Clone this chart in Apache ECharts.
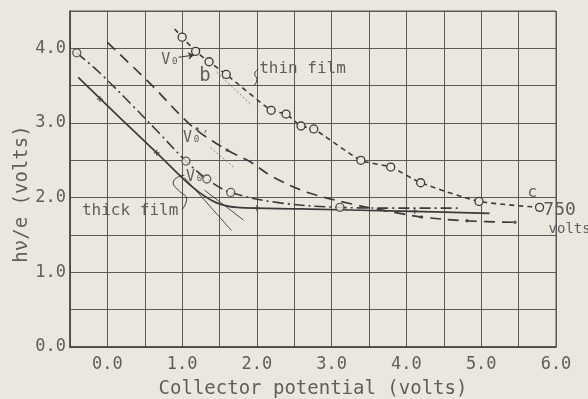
<!DOCTYPE html>
<html>
<head>
<meta charset="utf-8">
<script src="https://cdn.jsdelivr.net/npm/echarts@6/dist/echarts.min.js"></script>
<style>
html,body{margin:0;padding:0;background:#ece7de;}
#c{width:588px;height:399px;}
</style>
</head>
<body>
<div id="c"></div>
<script>
// ---- data ----
const xTicks = [0, 1, 2, 3, 4, 5, 6];
const yTicks = [0, 1, 2, 3, 4];

// thin film (circles, short dashes)
const thinX = [0.90, 1.00, 1.18, 1.36, 1.59, 2.19, 2.39, 2.59, 2.76, 3.39, 3.79, 4.19, 4.97, 5.78];
const thinY = [4.26, 4.15, 3.96, 3.82, 3.65, 3.17, 3.12, 2.96, 2.92, 2.50, 2.41, 2.20, 1.95, 1.87];
const thinHasMark = [0, 1, 1, 1, 1, 1, 1, 1, 1, 1, 1, 1, 1, 1];

// long-dash curve
const longX = [0.00, 0.57, 1.14, 1.60, 1.91, 2.21, 2.68, 3.34, 3.91, 4.20, 4.81, 5.45];
const longY = [4.08, 3.53, 2.95, 2.64, 2.48, 2.28, 2.07, 1.90, 1.79, 1.74, 1.69, 1.67];
const longDotX = [1.20, 1.60, 4.20, 4.81, 5.45];
const longDotY = [2.92, 2.64, 1.74, 1.69, 1.67];

// dash-dot curve (circles)
const ddX = [-0.41, -0.10, 0.33, 0.66, 1.05, 1.33, 1.65, 2.31, 3.11, 3.91, 4.71];
const ddY = [3.94, 3.67, 3.24, 2.90, 2.49, 2.25, 2.07, 1.93, 1.87, 1.86, 1.86];
const ddCircX = [-0.41, 1.05, 1.33, 1.65, 3.11];
const ddCircY = [3.94, 2.49, 2.25, 2.07, 1.87];

// solid curve (thick film)
const solX = [-0.39, 0.20, 0.66, 1.14, 1.44, 1.73, 2.57, 3.91, 5.11];
const solY = [3.61, 3.04, 2.60, 2.14, 1.94, 1.87, 1.85, 1.82, 1.79];
const solTickX = [-0.1, 0.66, 2.0, 4.11];
const solTickY = [3.32, 2.60, 1.86, 1.82];

// tangent construction lines
const tan1X = [1.03, 1.66], tan1Y = [2.27, 1.56];
const tan2X = [1.30, 1.82], tan2Y = [2.10, 1.70];
const tanBX = [1.38, 1.70], tanBY = [2.67, 2.40];
const tanThinX = [1.46, 1.93], tanThinY = [3.68, 3.24];

function zip(xs, ys) { return xs.map((x, i) => [x, ys[i]]); }

const bg = '#ece7de';
const ink = '#3b3b3b';
const txt = '#5e5e5e';
const font = 'DejaVu Sans Mono';

const chart = echarts.init(document.getElementById('c'), null, {renderer: 'canvas'});

const axisCommon = {
  type: 'value',
  interval: 0.5,
  axisTick: {show: false},
  axisLine: {show: true, onZero: false, lineStyle: {color: '#444', width: 1.5}},
  splitLine: {show: true, lineStyle: {color: '#5a5a5a', width: 1}},
};

function tickFmt(list) {
  return v => list.some(t => Math.abs(t - v) < 1e-6) ? v.toFixed(1) : '';
}

const lineBase = {type: 'line', symbol: 'none', silent: true, animation: false, z: 3};
const circleStyle = {color: bg, borderColor: ink, borderWidth: 1.3};

chart.setOption({
  backgroundColor: bg,
  animation: false,
  grid: {left: 70, right: 32, top: 11, bottom: 52, show: true, borderColor: '#555', borderWidth: 1, backgroundColor: 'transparent'},
  xAxis: Object.assign({}, axisCommon, {
    min: -0.5, max: 6,
    axisLabel: {formatter: tickFmt(xTicks), color: txt, fontFamily: font, fontSize: 17, margin: 9, hideOverlap: false}
  }),
  yAxis: Object.assign({}, axisCommon, {
    min: 0, max: 4.5,
    axisLabel: {formatter: tickFmt(yTicks), color: txt, fontFamily: font, fontSize: 17, margin: 4, hideOverlap: false}
  }),
  series: [
    Object.assign({}, lineBase, {
      name: 'thin film', data: zip(thinX, thinY),
      symbol: 'circle', symbolSize: (v, p) => thinHasMark[p.dataIndex] ? 8 : 0, showSymbol: true,
      itemStyle: circleStyle,
      lineStyle: {color: ink, width: 1.6, type: [5, 4]}, smooth: 0.2
    }),
    Object.assign({}, lineBase, {
      name: 'long dash', data: zip(longX, longY),
      lineStyle: {color: ink, width: 1.7, type: [11, 7]}, smooth: 0.35
    }),
    Object.assign({}, lineBase, {
      name: 'long dash dots', type: 'scatter', data: zip(longDotX, longDotY),
      symbol: 'circle', symbolSize: 3.5, itemStyle: {color: ink}
    }),
    Object.assign({}, lineBase, {
      name: 'dash dot', data: zip(ddX, ddY),
      lineStyle: {color: ink, width: 1.6, type: [11, 4, 2, 4]}, smooth: 0.35
    }),
    Object.assign({}, lineBase, {
      name: 'dash dot circles', type: 'scatter', data: zip(ddCircX, ddCircY), z: 4,
      symbol: 'circle', symbolSize: 8, itemStyle: circleStyle
    }),
    Object.assign({}, lineBase, {
      name: 'solid', data: zip(solX, solY),
      lineStyle: {color: ink, width: 1.7}, smooth: 0.35
    }),
    Object.assign({}, lineBase, {
      name: 'solid ticks', type: 'scatter', data: zip(solTickX, solTickY),
      symbol: 'path://M4,0h2v10h-2zM0,4h10v2h-10z', symbolSize: 6, itemStyle: {color: ink}
    }),
    Object.assign({}, lineBase, {data: zip(tan1X, tan1Y), lineStyle: {color: ink, width: 0.9}}),
    Object.assign({}, lineBase, {data: zip(tan2X, tan2Y), lineStyle: {color: ink, width: 0.9}}),
    Object.assign({}, lineBase, {data: zip(tanBX, tanBY), lineStyle: {color: '#777', width: 0.9, type: [2, 2]}}),
    Object.assign({}, lineBase, {data: zip(tanThinX, tanThinY), lineStyle: {color: '#777', width: 0.9, type: [2, 2]},
      markLine: {
        silent: true, symbol: ['none', 'arrow'], symbolSize: 6,
        label: {show: false}, lineStyle: {color: ink, width: 1, type: 'solid'},
        data: [[{coord: [0.95, 3.88]}, {coord: [1.16, 3.91]}]]
      }
    }),
    // curly pointers for the labels
    Object.assign({}, lineBase, {data: [[2.02, 3.72], [1.97, 3.66], [2.0, 3.58], [1.96, 3.50]], smooth: 0.5,
      lineStyle: {color: ink, width: 1}}),
    Object.assign({}, lineBase, {data: [[1.0, 1.84], [1.06, 1.98], [0.95, 2.10], [0.88, 2.2], [0.95, 2.28], [1.03, 2.3]], smooth: 0.5,
      lineStyle: {color: ink, width: 1}})
  ]
});

// annotations placed in data coordinates
const notes = [
  {t: 'V\u2080', x: 0.72, y: 3.84, s: 15},
  {t: 'b', x: 1.23, y: 3.63, s: 19},
  {t: 'thin film', x: 2.03, y: 3.72, s: 16},
  {t: 'V\u2080\u2032', x: 1.01, y: 2.80, s: 15},
  {t: 'V\u2080', x: 1.05, y: 2.27, s: 15},
  {t: 'thick film', x: -0.34, y: 1.83, s: 16},
  {t: 'c', x: 5.62, y: 2.06, s: 16},
  {t: '750', x: 5.83, y: 1.83, s: 18},
  {t: 'volts', x: 5.9, y: 1.57, s: 14}
];

const g = notes.map(n => {
  const p = chart.convertToPixel({gridIndex: 0}, [n.x, n.y]);
  return {type: 'text', x: p[0], y: p[1], z: 10,
    style: {text: n.t, fill: txt, font: n.s + 'px "' + font + '"', textVerticalAlign: 'middle', textAlign: 'left'}};
});
g.push({type: 'text', x: 313, y: 389, z: 10,
  style: {text: 'Collector potential (volts)', fill: txt, font: '19px "' + font + '"', textAlign: 'center', textVerticalAlign: 'middle'}});
g.push({type: 'text', x: 22, y: 194, rotation: Math.PI / 2, z: 10,
  style: {text: 'h\u03bd/e (volts)', fill: txt, font: '19px "' + font + '"', textAlign: 'center', textVerticalAlign: 'middle'}});
chart.setOption({graphic: g});
</script>
</body>
</html>
